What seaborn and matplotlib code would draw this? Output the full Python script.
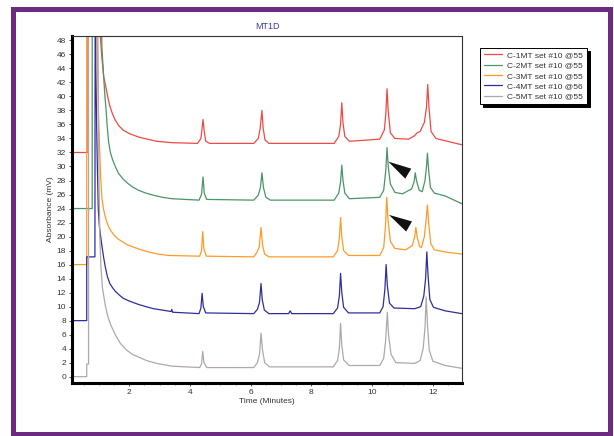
import numpy as np
import pandas as pd
import matplotlib.pyplot as plt
import seaborn as sb
from matplotlib.patches import Rectangle
from matplotlib.ticker import MultipleLocator

# trace names (legend text)
names = ['C-1MT set #10 @55', 'C-2MT set #10 @55', 'C-3MT set #10 @55',
         'C-4MT set #10 @56', 'C-5MT set #10 @55']
colors = ['#ee4a44', '#4a9468', '#ff9a26', '#2e2e9c', '#b0a8a8']

# values (time in minutes, signal in mV incl. offset)
t_c1 = [0.13, 0.64, 0.64, 1.00, 1.05, 1.10, 1.16, 1.21, 1.28, 1.35, 1.44, 1.54, 1.66, 1.80, 2.00,
        2.31, 2.60, 2.90, 3.41, 4.25,
        4.36, 4.40, 4.43, 4.47, 4.52, 4.65, 6.10, 6.25, 6.31, 6.37, 6.41, 6.47, 6.60,
        8.75, 8.90, 8.96, 9.00, 9.04, 9.10, 9.25, 10.25, 10.40, 10.45, 10.49, 10.53, 10.60, 10.75,
        11.20, 11.40, 11.48, 11.58, 11.72, 11.79, 11.83, 11.87, 11.94, 12.10, 12.95]
v_c1 = [32, 32, 60, 60, 48.5, 45.5, 42.8, 41.8, 40.2, 38.8, 37.6, 36.6, 35.8, 35.2, 34.7,
        34.2, 33.9, 33.6, 33.4, 33.3,
        34.0, 35.5, 36.7, 35.0, 33.6, 33.3, 33.3, 34.0, 35.4, 38.0, 35.5, 33.8, 33.3,
        33.3, 34.3, 36.0, 39.1, 36.2, 34.3, 33.6, 33.9, 35.2, 37.5, 41.1, 37.8, 34.8, 34.0,
        33.9, 34.4, 34.8, 35.0, 36.3, 38.5, 41.7, 38.5, 35.0, 34.0, 33.1]

t_c2 = [0.13, 0.78, 0.78, 1.05, 1.10, 1.14, 1.17, 1.20, 1.23, 1.27, 1.32, 1.38, 1.45, 1.55, 1.65,
        1.80, 1.95, 2.10, 2.31, 2.55, 2.80, 3.10, 3.41, 4.30,
        4.38, 4.43, 4.47, 4.55, 6.10, 6.25, 6.32, 6.37, 6.42, 6.50, 6.65,
        8.75, 8.90, 8.96, 9.00, 9.04, 9.10, 9.25, 10.25, 10.38, 10.45, 10.49, 10.53, 10.60, 10.75,
        11.00, 11.30, 11.38, 11.42, 11.46, 11.55, 11.65, 11.74, 11.79, 11.82, 11.86, 11.92, 12.05,
        12.40, 12.95]
v_c2 = [24, 24, 60, 60, 47.0, 44.0, 42.0, 40.0, 38.5, 36.0, 33.5, 32.0, 31.0, 29.9, 29.0,
        28.2, 27.6, 27.1, 26.6, 26.2, 25.9, 25.6, 25.4, 25.2,
        26.0, 28.5, 26.2, 25.3, 25.2, 25.9, 27.0, 29.1, 27.0, 25.6, 25.2,
        25.2, 26.2, 27.8, 30.2, 28.0, 26.2, 25.4, 25.6, 26.6, 29.5, 32.7, 30.0, 27.5, 26.3,
        26.1, 26.8, 27.8, 29.1, 28.0, 26.6, 26.4, 28.0, 30.0, 31.9, 29.5, 27.0, 26.2,
        25.8, 24.7]

t_c3 = [0.13, 0.60, 0.60, 0.90, 0.98, 1.02, 1.06, 1.10, 1.15, 1.20, 1.26, 1.32, 1.40, 1.50, 1.62,
        1.76, 1.95, 2.20, 2.40, 2.64, 2.95, 3.30, 4.32,
        4.38, 4.42, 4.46, 4.54, 6.10, 6.20, 6.28, 6.34, 6.39, 6.46, 6.60,
        8.72, 8.86, 8.92, 8.96, 9.00, 9.06, 9.22, 10.25, 10.38, 10.44, 10.48, 10.52, 10.60, 10.75,
        11.10, 11.32, 11.40, 11.44, 11.48, 11.56, 11.62, 11.72, 11.78, 11.82, 11.86, 11.93, 12.05,
        12.40, 12.95]
v_c3 = [16, 16, 60, 60, 38.0, 33.0, 28.5, 25.5, 24.0, 23.0, 22.1, 21.4, 20.8, 20.2, 19.7,
        19.3, 18.8, 18.4, 18.1, 17.8, 17.5, 17.3, 17.2,
        18.0, 20.7, 18.2, 17.2, 17.1, 17.7, 18.5, 21.3, 18.8, 17.5, 17.1,
        17.1, 18.0, 19.8, 22.7, 20.0, 18.0, 17.3, 17.3, 18.4, 21.5, 25.6, 22.5, 19.3, 18.3,
        18.1, 18.7, 20.0, 21.3, 20.0, 18.6, 18.4, 20.0, 22.5, 24.5, 22.0, 19.0, 18.1,
        17.8, 17.5]

t_c4 = [0.13, 0.60, 0.60, 0.87, 0.88, 0.90, 0.93, 0.95, 0.98, 1.02, 1.09, 1.15, 1.21, 1.28, 1.36,
        1.45, 1.54, 1.66, 1.80, 2.00, 2.31, 2.55, 2.80, 3.10,
        3.38, 3.40, 3.43, 4.30, 4.36, 4.40, 4.44, 4.52, 6.10, 6.22, 6.29, 6.34, 6.38, 6.45, 6.60,
        7.25, 7.30, 7.35, 8.72, 8.86, 8.92, 8.96, 9.00, 9.06, 9.22, 10.25, 10.36, 10.42, 10.46,
        10.50, 10.57, 10.72, 11.40, 11.60, 11.70, 11.76, 11.80, 11.84, 11.90, 12.02, 12.40, 12.95]
v_c4 = [8, 8, 17.1, 17.1, 60, 44.0, 35.0, 30.0, 24.0, 21.3, 19.0, 17.2, 15.7, 14.3, 13.3,
        12.7, 12.2, 11.7, 11.2, 10.8, 10.3, 10.0, 9.7, 9.5,
        9.3, 9.6, 9.2, 9.0, 9.8, 11.9, 10.0, 9.1, 9.0, 9.6, 10.6, 13.3, 11.0, 9.5, 9.0,
        9.0, 9.4, 9.0, 9.0, 9.8, 11.5, 14.75, 12.0, 9.9, 9.1, 9.1, 10.0, 12.5, 16.0,
        13.0, 10.5, 9.8, 9.7, 10.0, 11.5, 14.0, 17.8, 14.5, 11.0, 9.9, 9.4, 9.0]

t_c5 = [0.13, 0.60, 0.60, 0.66, 0.66, 0.95, 1.00, 1.03, 1.07, 1.12, 1.21, 1.30, 1.40, 1.54, 1.70,
        1.91, 2.10, 2.31, 2.57, 2.90, 3.41,
        4.32, 4.38, 4.42, 4.46, 4.56, 6.10, 6.22, 6.29, 6.34, 6.39, 6.46, 6.62,
        8.72, 8.86, 8.92, 8.96, 9.00, 9.06, 9.24, 10.25, 10.38, 10.44, 10.50, 10.54, 10.62, 10.78,
        11.40, 11.58, 11.68, 11.74, 11.78, 11.82, 11.88, 12.00, 12.40, 12.95]
v_c5 = [0, 0, 1.8, 1.8, 60, 60, 30.0, 20.0, 15.5, 12.6, 10.2, 8.5, 7.3, 6.0, 4.8,
        3.8, 3.2, 2.8, 2.3, 1.9, 1.5,
        1.3, 1.8, 3.6, 2.0, 1.3, 1.3, 2.0, 3.2, 6.2, 3.8, 2.0, 1.4,
        1.4, 2.3, 4.0, 7.6, 4.5, 2.4, 1.6, 1.6, 2.6, 5.0, 9.2, 6.0, 3.2, 2.0,
        1.9, 2.3, 4.0, 7.0, 11.4, 7.5, 3.8, 2.2, 1.6, 1.2]

y_ticks = list(range(0, 49, 2))
x_ticks = [2, 4, 6, 8, 10, 12]

frames = []
for name, t, v in zip(names, [t_c1, t_c2, t_c3, t_c4, t_c5], [v_c1, v_c2, v_c3, v_c4, v_c5]):
    frames.append(pd.DataFrame({'time': t, 'mv': v, 'trace': name}))
df = pd.concat(frames, ignore_index=True)

sb.set_style('ticks')
plt.rcParams['font.family'] = ['Liberation Sans', 'DejaVu Sans']

fig = plt.figure(figsize=(6.14, 4.36), dpi=100)
ax = fig.add_axes([0.118, 0.1216, 0.634, 0.7954])

sb.lineplot(data=df, x='time', y='mv', hue='trace', palette=colors, sort=False,
            estimator=None, lw=0.9, ax=ax, legend=False)

ax.set_xlim(0.13, 12.95)
ax.set_ylim(-0.9, 48.6)
ax.set_xticks(x_ticks)
ax.set_yticks(y_ticks)
ax.xaxis.set_minor_locator(MultipleLocator(0.5))
ax.tick_params(axis='both', labelsize=6, colors='#333333', length=2.5, width=0.6, pad=2)
ax.tick_params(axis='x', which='minor', length=1.5, width=0.5, colors='#555555')
ax.set_xlabel('Time (Minutes)', fontsize=6, color='#333333', labelpad=1)
ax.set_ylabel('Absorbance (mV)', fontsize=6, color='#333333', labelpad=2)
ax.set_title('MT1D', fontsize=6.5, color='#3c3ca0', pad=5)

for s in ['left', 'bottom']:
    ax.spines[s].set_linewidth(2.2)
    ax.spines[s].set_color('black')
for s in ['top', 'right']:
    ax.spines[s].set_linewidth(0.8)
    ax.spines[s].set_color('#333333')

# arrowheads marking the extra peak
for tip, tail in [((10.53, 30.7), (11.22, 28.9)), ((10.55, 23.1), (11.27, 21.3))]:
    ax.annotate('', xy=tip, xytext=tail,
                arrowprops=dict(arrowstyle='-|>,head_length=2.4,head_width=0.6',
                                color='#111111', lw=0, mutation_scale=7,
                                shrinkA=0, shrinkB=0))

handles = [plt.Line2D([], [], color=c, lw=0.9) for c in colors]
leg = ax.legend(handles, names, loc='upper left', bbox_to_anchor=(0.775, 0.9),
                bbox_transform=fig.transFigure, fontsize=6, frameon=True,
                fancybox=False, edgecolor='black', framealpha=1,
                shadow={'color': 'black', 'alpha': 1, 'ox': 2, 'oy': -2},
                handlelength=2.2, labelspacing=0.3, borderpad=0.45, handletextpad=0.6)
leg.get_frame().set_linewidth(0.7)
for txt in leg.get_texts():
    txt.set_color('#333333')

fig.patches.append(Rectangle((12.5 / 614, 2 / 436), (610 - 12.5) / 614, (426.5 - 2) / 436,
                             transform=fig.transFigure, fill=False,
                             edgecolor='#6c2a80', lw=3.6, zorder=10))

fig.savefig('out.png', dpi=100)
